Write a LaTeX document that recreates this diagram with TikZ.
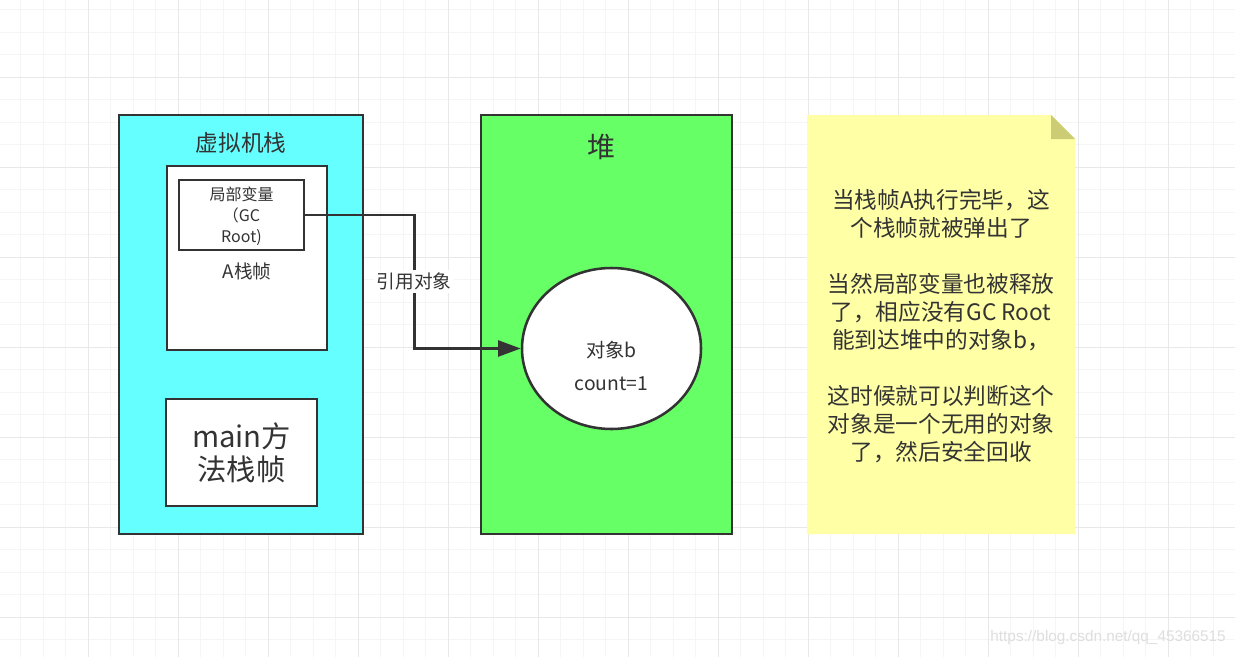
\documentclass[tikz,border=0pt]{standalone}
\usepackage{fontspec}
\setmainfont{Noto Sans CJK SC}
\newfontfamily\wmfont{Liberation Sans}
\usepackage{xcolor}
\usepackage{tikz}
\usetikzlibrary{arrows.meta,positioning,shapes.geometric}
\definecolor{gridMinor}{RGB}{245,245,245}
\definecolor{gridMajor}{RGB}{232,232,232}
\definecolor{vmCyan}{RGB}{102,255,255}
\definecolor{heapGreen}{RGB}{102,255,102}
\definecolor{noteYellow}{RGB}{255,255,166}
\definecolor{noteFold}{RGB}{204,204,117}
\definecolor{inkGray}{RGB}{51,51,51}
\definecolor{wmGray}{RGB}{222,222,222}

\begin{document}
\begin{tikzpicture}[x=0.75pt,y=-0.75pt,
  box/.style={draw=inkGray, line width=1.9pt, inner sep=0pt},
  txt/.style={text=inkGray, inner sep=0pt, align=center},
  ref/.style={draw=inkGray, line width=1.9pt, -{Triangle[length=17pt,width=12pt]}}]
\useasboundingbox (0,0) rectangle (1235,657);
\fill[white] (0,0) rectangle (1235,657);

% background grid
\foreach \k in {0,...,54}{
  \draw[gridMinor, line width=0.75pt] ({20.5+22.5*\k},0)--({20.5+22.5*\k},657);
}
\foreach \k in {0,...,28}{
  \draw[gridMinor, line width=0.75pt] (0,{9.5+22.5*\k})--(1235,{9.5+22.5*\k});
}
\foreach \k in {0,...,12}{
  \draw[gridMajor, line width=0.75pt] ({88+90*\k},0)--({88+90*\k},657);
}
\foreach \k in {0,...,6}{
  \draw[gridMajor, line width=0.75pt] (0,{77+90*\k})--(1235,{77+90*\k});
}

% left: virtual machine stack
\node[box, fill=vmCyan, minimum width=183pt, minimum height=314.25pt] (vm) at (241,324.5) {};
\node[txt, font=\fontsize{17}{20}\selectfont] (vmtitle) at (241,143) {虚拟机栈};
\node[box, fill=white, minimum width=120pt, minimum height=138pt] (frameA) at (247,258) {};
\node[box, fill=white, minimum width=93.75pt, minimum height=52.5pt] (lv) at (241.5,215) {};
\node[txt, font=\fontsize{12}{15.75}\selectfont] (lvtxt) at (241.5,216) {局部变量\\（GC\\Root)};
\node[txt, font=\fontsize{14}{17}\selectfont] (frameAtxt) at (247,271) {A栈帧};
\node[box, fill=white, minimum width=113.25pt, minimum height=80.25pt] (mainf) at (241.5,452.5) {};
\node[txt, font=\fontsize{22}{25}\selectfont] (maintxt) at (241.5,453) {main方\\法栈帧};

% middle: heap
\node[box, fill=heapGreen, minimum width=188.25pt, minimum height=314.25pt] (heap) at (606.5,324.5) {};
\node[txt, font=\fontsize{21}{24}\selectfont] (heaptitle) at (601,147) {堆};
\node[box, ellipse, fill=white, minimum width=134.25pt, minimum height=120.75pt] (obj) at (611.5,348.5) {};
\node[txt, font=\fontsize{14.5}{25}\selectfont] (objtxt) at (611.5,366) {对象b\\count=1};

% reference
\draw[ref] (lv.east) -- ++(109,0) |- node[pos=0.25, txt, fill=white, inner sep=2pt, font=\fontsize{14}{17}\selectfont] (reflbl) {引用对象} (obj.west);

% right: note
\fill[noteYellow] (807,115)--(1051,115)--(1075,139)--(1075,534)--(807,534)--cycle;
\fill[noteFold] (1051,115)--(1051,139)--(1075,139)--cycle;
\node[txt, font=\fontsize{17}{21}\selectfont] (note) at (941,326) {当栈帧A执行完毕，这\\个栈帧就被弹出了\\[21pt]当然局部变量也被释放\\了，相应没有GC Root\\能到达堆中的对象b，\\[21pt]这时候就可以判断这个\\对象是一个无用的对象\\了，然后安全回收};

% watermark
\node[anchor=east, inner sep=0pt, text=wmGray, font=\wmfont\fontsize{11.5}{14}\selectfont] (wmark) at (1226,638) {https://blog.csdn.net/qq\_45366515};
\end{tikzpicture}
\end{document}
